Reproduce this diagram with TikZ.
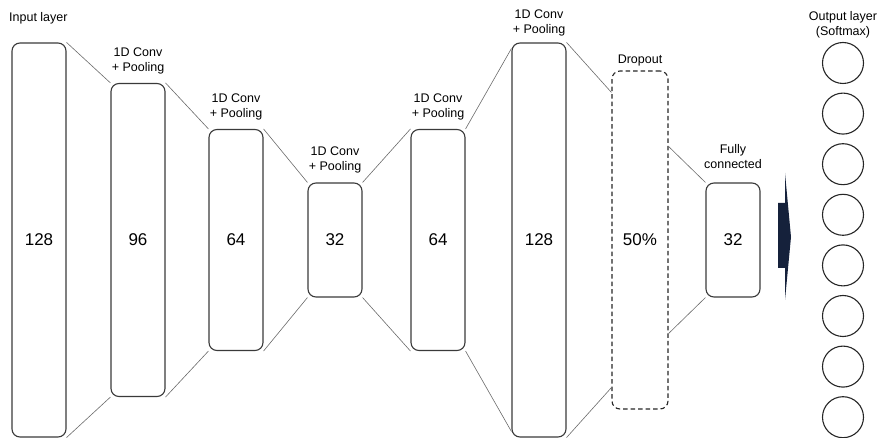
\documentclass[tikz,border=0pt]{standalone}
\usepackage{fontspec}
\setmainfont{Liberation Sans}
\usetikzlibrary{arrows.meta}
\usetikzlibrary{positioning}

\definecolor{boxline}{HTML}{3A3A3A}
\definecolor{linkline}{HTML}{6A6A6A}
\definecolor{navy}{HTML}{15213B}

\begin{document}
\begin{tikzpicture}[x=1pt, y=-1pt,
  layer/.style={rectangle, rounded corners=8pt, draw=boxline, line width=1.1pt,
                minimum width=54pt, font=\fontsize{17}{19}\selectfont},
  droplayer/.style={layer, draw=black!85, dash pattern=on 4.5pt off 3pt, minimum width=56pt},
  caption/.style={font=\fontsize{12.5}{15}\selectfont, align=center, inner sep=1pt},
  unit/.style={circle, draw=black!85, line width=1.1pt, minimum size=41pt, inner sep=0pt},
  link/.style={draw=linkline, line width=0.6pt}]
\useasboundingbox (0,0) rectangle (879,438);

% layers
\node at ( 39, 240) (in)   [layer, minimum height=394pt] {128};
\node at (138, 240) (c1)   [layer, minimum height=313pt] {96};
\node at (236, 240) (c2)   [layer, minimum height=221pt] {64};
\node at (335, 240) (c3)   [layer, minimum height=114pt] {32};
\node at (438, 240) (c4)   [layer, minimum height=221pt] {64};
\node at (539, 240) (c5)   [layer, minimum height=394pt] {128};
\node at (640, 240) (drop) [droplayer, minimum height=338pt] {50\%};
\node at (733, 240) (fc)   [layer, minimum height=114pt] {32};

% captions
\node at (8, 18) [caption, anchor=west] {Input layer};
\node [caption, above=8pt of c1.north] {1D Conv\\+ Pooling};
\node [caption, above=8pt of c2.north] {1D Conv\\+ Pooling};
\node [caption, above=8pt of c3.north] {1D Conv\\+ Pooling};
\node [caption, above=8pt of c4.north] {1D Conv\\+ Pooling};
\node [caption, above=5pt of c5.north] {1D Conv\\+ Pooling};
\node [caption, above=3pt of drop.north] {Dropout};
\node [caption, above=13pt of fc.north] {Fully\\connected};
\node at (843, 25) [caption] {Output layer\\(Softmax)};

% links between layers
\draw [link] (in.north east) -- (c1.north west);
\draw [link] (in.south east) -- (c1.south west);
\draw [link] (c1.north east) -- (c2.north west);
\draw [link] (c1.south east) -- (c2.south west);
\draw [link] (c2.north east) -- (c3.north west);
\draw [link] (c2.south east) -- (c3.south west);
\draw [link] (c3.north east) -- (c4.north west);
\draw [link] (c3.south east) -- (c4.south west);
\draw [link] (c4.north east) -- ([yshift=-6pt]c5.north west);
\draw [link] (c4.south east) -- ([yshift=6pt]c5.south west);
\draw [link] (c5.north east) -- ([yshift=-22pt]drop.north west);
\draw [link] (c5.south east) -- ([yshift=22pt]drop.south west);
\draw [link] ([yshift=-76pt]drop.north east) -- (fc.north west);
\draw [link] ([yshift=76pt]drop.south east) -- (fc.south west);

% softmax arrow
\fill [navy] (778,203) -- (785,203) -- (785,173) -- (791,237)
  -- (785,300) -- (785,268) -- (778,268) -- cycle;

% output units
\foreach \i in {0,...,7}
  \node at (843, 63+50.6*\i) (o\i) [unit] {};
\end{tikzpicture}
\end{document}
